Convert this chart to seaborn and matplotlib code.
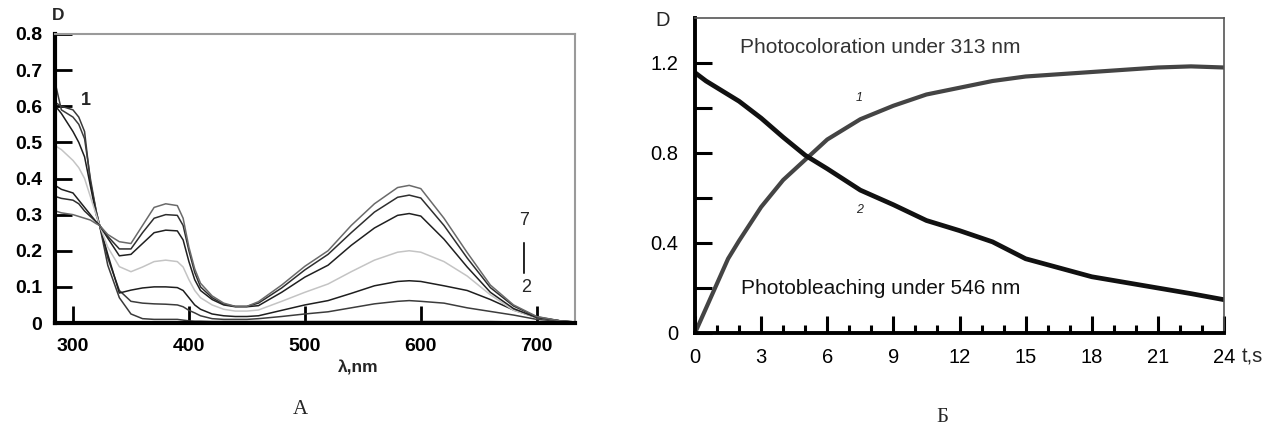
import numpy as np
import pandas as pd
import matplotlib
matplotlib.use("Agg")
import matplotlib.pyplot as plt
import seaborn as sns
from matplotlib.ticker import FixedLocator, MultipleLocator, FixedFormatter

# ---------------- Panel A: absorption spectra ----------------
wavelength = [285, 290, 300, 305, 310, 315, 320, 323, 330, 340, 350, 360, 370, 380,
              390, 395, 400, 405, 410, 420, 430, 440, 450, 460, 480, 500, 520, 540,
              560, 580, 590, 600, 620, 640, 660, 680, 700, 720, 730]

spec_1 = [0.61, 0.60, 0.59, 0.57, 0.53, 0.39, 0.31, 0.27, 0.16, 0.07, 0.025, 0.012, 0.01, 0.01,
          0.01, 0.008, 0.006, 0.005, 0.005, 0.004, 0.004, 0.004, 0.004, 0.004, 0.004, 0.004, 0.004, 0.004,
          0.004, 0.004, 0.004, 0.004, 0.004, 0.004, 0.004, 0.003, 0.003, 0.002, 0.002]
spec_2 = [0.66, 0.59, 0.57, 0.55, 0.51, 0.40, 0.31, 0.27, 0.18, 0.09, 0.06, 0.055, 0.053, 0.052,
          0.05, 0.045, 0.035, 0.028, 0.02, 0.012, 0.01, 0.01, 0.01, 0.012, 0.018, 0.025, 0.031, 0.042,
          0.053, 0.06, 0.062, 0.06, 0.055, 0.042, 0.032, 0.022, 0.01, 0.005, 0.003]
spec_3 = [0.60, 0.58, 0.53, 0.50, 0.46, 0.38, 0.30, 0.27, 0.19, 0.083, 0.091, 0.097, 0.10, 0.10,
          0.098, 0.09, 0.07, 0.05, 0.038, 0.025, 0.02, 0.018, 0.018, 0.02, 0.035, 0.05, 0.062, 0.082,
          0.103, 0.115, 0.117, 0.115, 0.103, 0.09, 0.065, 0.036, 0.015, 0.006, 0.004]
spec_4 = [0.49, 0.48, 0.45, 0.43, 0.40, 0.35, 0.30, 0.27, 0.21, 0.156, 0.142, 0.155, 0.17, 0.174,
          0.17, 0.155, 0.12, 0.09, 0.07, 0.05, 0.038, 0.033, 0.033, 0.036, 0.06, 0.085, 0.108, 0.142,
          0.174, 0.196, 0.20, 0.196, 0.17, 0.13, 0.078, 0.035, 0.015, 0.006, 0.003]
spec_5 = [0.38, 0.37, 0.36, 0.34, 0.32, 0.30, 0.28, 0.27, 0.235, 0.186, 0.19, 0.22, 0.25, 0.257,
          0.255, 0.23, 0.17, 0.12, 0.09, 0.065, 0.05, 0.045, 0.045, 0.048, 0.085, 0.127, 0.16, 0.215,
          0.263, 0.298, 0.303, 0.296, 0.232, 0.155, 0.085, 0.04, 0.015, 0.006, 0.003]
spec_6 = [0.35, 0.345, 0.34, 0.33, 0.31, 0.295, 0.28, 0.27, 0.24, 0.205, 0.205, 0.25, 0.29, 0.30,
          0.298, 0.27, 0.20, 0.14, 0.10, 0.07, 0.052, 0.046, 0.046, 0.055, 0.097, 0.147, 0.19, 0.25,
          0.307, 0.348, 0.354, 0.346, 0.27, 0.18, 0.098, 0.047, 0.017, 0.006, 0.003]
spec_7 = [0.31, 0.305, 0.30, 0.295, 0.29, 0.285, 0.275, 0.27, 0.245, 0.225, 0.22, 0.27, 0.32, 0.33,
          0.325, 0.29, 0.21, 0.15, 0.11, 0.075, 0.055, 0.046, 0.046, 0.059, 0.105, 0.157, 0.20, 0.27,
          0.33, 0.375, 0.381, 0.372, 0.29, 0.195, 0.105, 0.05, 0.018, 0.006, 0.003]

spectra = [spec_1, spec_2, spec_3, spec_4, spec_5, spec_6, spec_7]
spec_colors = ["#3a3a3a", "#3c3c3c", "#1e1e1e", "#c4c4c4", "#202020", "#2e2e2e", "#6a6a6a"]

a_yticks = [0, 0.1, 0.2, 0.3, 0.4, 0.5, 0.6, 0.7, 0.8]
a_ylabels = ["0", "0.1", "0.2", "0.3", "0.4", "0.5", "0.6", "0.7", "0.8"]
a_xticks = [300, 400, 500, 600, 700]

# ---------------- Panel B: kinetics ----------------
time_s = [0, 0.5, 1, 1.5, 2, 3, 4, 5, 6, 7.5, 9, 10.5, 12, 13.5, 15, 16.5, 18, 19.5, 21, 22.5, 24]
d_coloration = [0, 0.11, 0.22, 0.33, 0.41, 0.56, 0.68, 0.77, 0.86, 0.95, 1.01, 1.06, 1.09, 1.12,
                1.14, 1.15, 1.16, 1.17, 1.18, 1.185, 1.18]
d_bleaching = [1.157, 1.12, 1.09, 1.06, 1.03, 0.955, 0.87, 0.79, 0.73, 0.635, 0.57, 0.50, 0.455, 0.405,
               0.33, 0.29, 0.25, 0.225, 0.20, 0.175, 0.148]

b_yticks = [0, 0.2, 0.4, 0.6, 0.8, 1.0, 1.2]
b_ylabels = ["0", "", "0.4", "", "0.8", "", "1.2"]
b_xticks = [0, 3, 6, 9, 12, 15, 18, 21, 24]

sns.set_theme(style="white")
plt.rcParams['font.family'] = ['Liberation Sans', 'DejaVu Sans']

W, H = 1275, 430
fig = plt.figure(figsize=(W / 100, H / 100), dpi=100)
fig.patch.set_facecolor("white")

def fx(x):
    return x / W

def fy(y):
    return 1 - y / H

axA = fig.add_axes([fx(55), fy(323), (575 - 55) / W, (323 - 34) / H])
axB = fig.add_axes([fx(695), fy(333), (1224 - 695) / W, (333 - 18) / H])

# ---- Panel A drawing
dfA = pd.DataFrame({"wl": wavelength})
for i, s in enumerate(spectra):
    dfA[f"s{i+1}"] = s
for i, c in enumerate(spec_colors):
    sns.lineplot(data=dfA, x="wl", y=f"s{i+1}", ax=axA, color=c, lw=1.1,
                 estimator=None, sort=False)

axA.set_xlim(284.5, 733)
axA.set_ylim(0, 0.8)
axA.set_xlabel("")
axA.set_ylabel("")
axA.yaxis.set_major_locator(FixedLocator(a_yticks))
axA.yaxis.set_major_formatter(FixedFormatter(a_ylabels))
axA.xaxis.set_major_locator(FixedLocator(a_xticks))
axA.tick_params(axis="both", direction="in", length=12, width=2, color="black",
                labelsize=14, labelcolor="black")
axA.tick_params(axis="y", pad=9, left=True)
axA.tick_params(axis="x", pad=11, bottom=True)
for lab in axA.get_xticklabels() + axA.get_yticklabels():
    lab.set_fontweight("bold")
for side in ["left", "bottom"]:
    axA.spines[side].set_color("black")
    axA.spines[side].set_linewidth(3)
for side in ["top", "right"]:
    axA.spines[side].set_color("#9a9a9a")
    axA.spines[side].set_linewidth(1.5)

axA.text(311, 0.616, "1", fontsize=13, fontweight="bold", ha="center", va="center")
axA.text(689, 0.285, "7", fontsize=13, ha="center", va="center")
axA.text(691, 0.097, "2", fontsize=13, ha="center", va="center")
axA.annotate("", xy=(689, 0.138), xytext=(689, 0.222),
             arrowprops=dict(arrowstyle="-", color="black", lw=1.2, shrinkA=0, shrinkB=0))

fig.text(fx(58), fy(15), "D", fontsize=12.5, fontweight="bold", ha="center", va="center")
fig.text(fx(358), fy(368), "λ,nm", fontsize=12.5, fontweight="bold", ha="center", va="center")
fig.text(fx(300), fy(410), "A", fontsize=15, family="Liberation Serif", ha="center", va="center")

# ---- Panel B drawing
dfB = pd.DataFrame({"t": time_s, "col": d_coloration, "bl": d_bleaching})
sns.lineplot(data=dfB, x="t", y="col", ax=axB, color="#444444", lw=3.0, estimator=None, sort=False)
sns.lineplot(data=dfB, x="t", y="bl", ax=axB, color="#111111", lw=3.4, estimator=None, sort=False)

axB.set_xlim(0, 24)
axB.set_ylim(0, 1.4)
axB.set_xlabel("")
axB.set_ylabel("")
axB.yaxis.set_major_locator(FixedLocator(b_yticks))
axB.yaxis.set_major_formatter(FixedFormatter(b_ylabels))
axB.xaxis.set_major_locator(FixedLocator(b_xticks))
axB.xaxis.set_minor_locator(MultipleLocator(1))
axB.tick_params(axis="both", which="major", direction="in", length=12, width=2.2, color="black",
                labelsize=14.5, labelcolor="black")
axB.tick_params(axis="x", which="minor", direction="in", length=6, width=2.2, color="black", bottom=True)
axB.tick_params(axis="y", pad=12, left=True)
axB.tick_params(axis="x", pad=11, bottom=True)
for side in ["left", "bottom"]:
    axB.spines[side].set_color("black")
    axB.spines[side].set_linewidth(2.8)
for side in ["top", "right"]:
    axB.spines[side].set_color("#555555")
    axB.spines[side].set_linewidth(1.2)

axB.text(2.04, 1.27, "Photocoloration under 313 nm", fontsize=15, color="#333333",
         ha="left", va="center")
axB.text(2.1, 0.2, "Photobleaching under 546 nm", fontsize=15, color="#111111",
         ha="left", va="center")
axB.text(7.45, 1.045, "1", fontsize=9, style="italic", ha="center", va="center")
axB.text(7.45, 0.547, "2", fontsize=9, style="italic", ha="center", va="center")

fig.text(fx(663), fy(20), "D", fontsize=14.5, ha="center", va="center")
fig.text(fx(1252), fy(357), "t,s", fontsize=14.5, ha="center", va="center")
fig.text(fx(942), fy(418), "Б", fontsize=15, family="Liberation Serif", ha="center", va="center")

fig.savefig("out.png", dpi=100, facecolor="white")
